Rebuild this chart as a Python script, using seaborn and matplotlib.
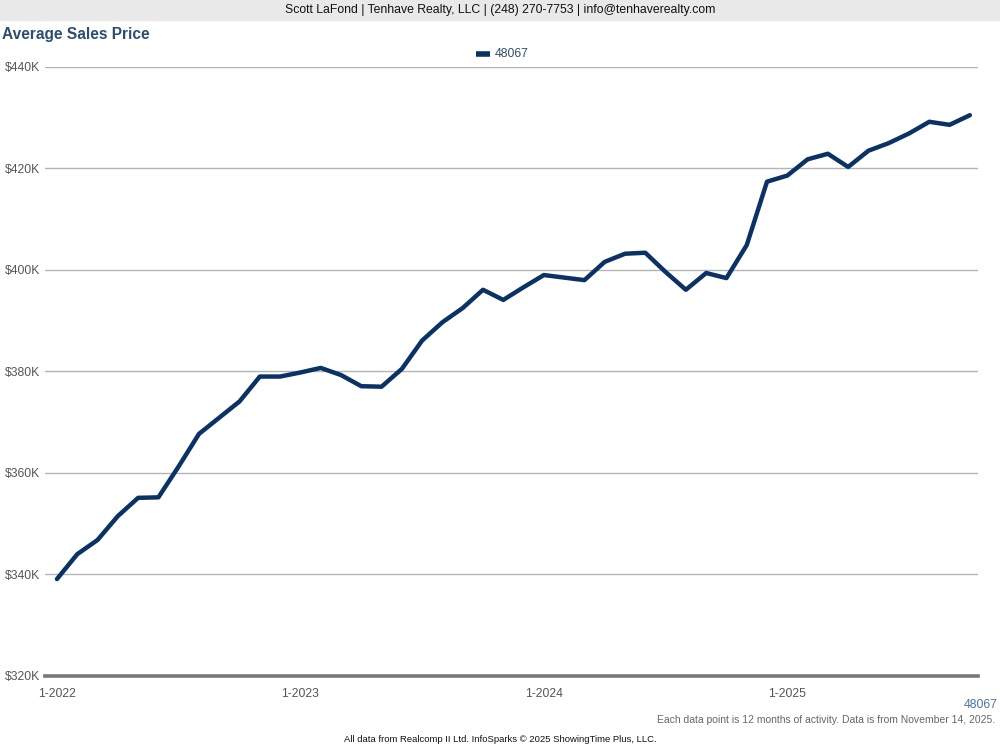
import matplotlib
matplotlib.use("Agg")
import matplotlib.pyplot as plt
import pandas as pd
import seaborn as sns

# monthly rolling 12-month average sales price, 1-2022 .. 10-2025 (in $K)
months = pd.date_range("2022-01-01", "2025-10-01", freq="MS")
price_k = [
    339.1, 344.0, 346.8, 351.5, 355.1, 355.2, 361.3, 367.7, 370.9, 374.1, 379.0, 379.0,
    379.8, 380.7, 379.3, 377.1, 377.0, 380.5, 386.1, 389.7, 392.5, 396.1, 394.1, 396.6,
    399.0, 398.5, 398.0, 401.6, 403.2, 403.4, 399.6, 396.1, 399.4, 398.4, 404.9, 417.4,
    418.6, 421.8, 422.9, 420.3, 423.5, 425.0, 426.9, 429.2, 428.6, 430.5,
]
series_name = "48067"
y_ticks = [320, 340, 360, 380, 400, 420, 440]
x_tick_idx = [0, 12, 24, 36]
x_tick_labels = ["1-2022", "1-2023", "1-2024", "1-2025"]

df = pd.DataFrame({"idx": range(len(months)), "price": price_k, "area": series_name})

sns.set_style("white")
plt.rcParams["font.family"] = ["Liberation Sans", "DejaVu Sans"]

fig = plt.figure(figsize=(10, 7.5), dpi=100)
ax = fig.add_axes([0.045, 0.0987, 0.933, 0.812])

navy = "#0b3264"
sns.lineplot(data=df, x="idx", y="price", hue="area", palette=[navy],
             linewidth=3.2, ax=ax, legend=False, solid_capstyle="round")

ax.set_xlim(-0.59, 45.4)
ax.set_ylim(320, 440)
ax.set_yticks(y_ticks)
ax.set_yticklabels([f"${v}K" for v in y_ticks])
ax.set_xticks(x_tick_idx)
ax.set_xticklabels(x_tick_labels)
ax.set_xlabel("")
ax.set_ylabel("")

for v in y_ticks[1:]:
    ax.axhline(v, color="#b4b4b4", linewidth=1.0, zorder=0)

for s in ["top", "right", "left"]:
    ax.spines[s].set_visible(False)
ax.spines["bottom"].set_color("#777777")
ax.spines["bottom"].set_linewidth(2.6)

ax.tick_params(axis="y", length=0, pad=3.5, labelsize=8.7, labelcolor="#555555")
ax.tick_params(axis="x", length=6, width=1.5, color="#777777", pad=3,
               labelsize=8.7, labelcolor="#555555", direction="out")

# header band
fig.patches.append(plt.Rectangle((0, 1 - 20 / 750), 1, 20 / 750, transform=fig.transFigure,
                                 color="#e9e9e9", zorder=0))
fig.text(0.5, 1 - 10.5 / 750, "Scott LaFond | Tenhave Realty, LLC | (248) 270-7753 | info@tenhaverealty.com",
         ha="center", va="center", fontsize=8.8, color="#111111")
fig.text(0.002, 1 - 35 / 750, "Average Sales Price", ha="left", va="center",
         fontsize=11.2, fontweight="bold", color="#2d4e72")

# legend
fig.add_artist(plt.Line2D([0.476, 0.49], [1 - 54 / 750] * 2, color=navy, linewidth=4,
                          solid_capstyle="butt", transform=fig.transFigure))
fig.text(0.495, 1 - 54 / 750, series_name, ha="left", va="center", fontsize=8.8, color="#2d4e72")

# footnotes
fig.text(0.998, 1 - 705 / 750, series_name, ha="right", va="center", fontsize=8.8, color="#4a74a8")
fig.text(0.995, 1 - 720 / 750, "Each data point is 12 months of activity. Data is from November 14, 2025.",
         ha="right", va="center", fontsize=7.5, color="#666666")
fig.text(0.5, 1 - 740 / 750, "All data from Realcomp II Ltd. InfoSparks \u00a9 2025 ShowingTime Plus, LLC.",
         ha="center", va="center", fontsize=6.8, color="#111111")

fig.savefig("out.png", dpi=100)
